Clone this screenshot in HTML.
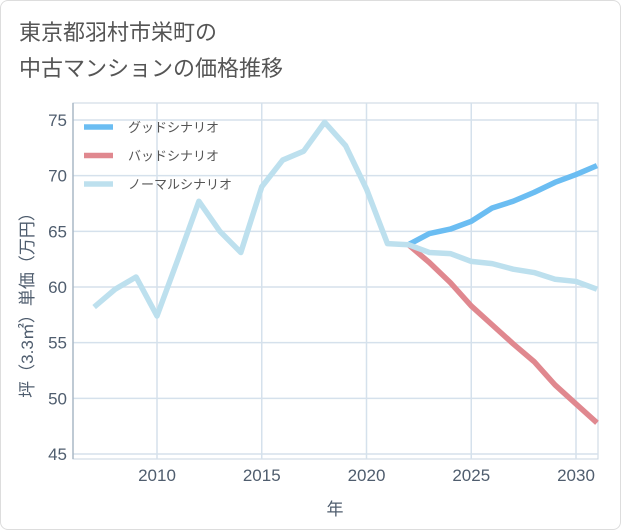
<!DOCTYPE html>
<html><head><meta charset="utf-8"><style>
body{margin:0;background:#fff;}
#wrap{position:relative;width:619px;height:528px;border:1px solid #ddd;border-radius:8px;overflow:hidden;font-family:"Liberation Sans","Noto Sans CJK JP",sans-serif;}
#title{position:absolute;left:18px;top:14px;font-size:22px;line-height:36px;color:#555;}
svg{position:absolute;left:0;top:0;}
</style></head><body>
<div id="wrap">
<div id="title">東京都羽村市栄町の<br>中古マンションの価格推移</div>
<svg id="chart" width="621" height="530"></svg>
</div>
<script>
const years=[2007,2008,2009,2010,2011,2012,2013,2014,2015,2016,2017,2018,2019,2020,2021,2022,2023,2024,2025,2026,2027,2028,2029,2030,2031];
const normalVals=[58.2,59.8,60.9,57.4,62.5,67.7,65.0,63.1,69.0,71.4,72.2,74.8,72.7,68.8,63.9,63.8,63.1,63.0,62.3,62.1,61.6,61.3,60.7,60.5,59.8];
const futureYears=[2022,2023,2024,2025,2026,2027,2028,2029,2030,2031];
const goodVals=[63.8,64.8,65.2,65.9,67.1,67.7,68.5,69.4,70.1,70.9];
const badVals=[63.8,62.2,60.4,58.3,56.6,54.9,53.3,51.2,49.5,47.8];
const yTicks=[45,50,55,60,65,70,75];
const xTicks=[2010,2015,2020,2025,2030];
const L=72,R=597,T=102,B=458;
const x=v=>156+(v-2010)*20.95;
const y=v=>453-(v-45)*11.133;
const svg=document.getElementById('chart');
const NS='http://www.w3.org/2000/svg';
function mk(t,a){const e=document.createElementNS(NS,t);for(const k in a)e.setAttribute(k,a[k]);svg.appendChild(e);return e;}
const bg=mk('rect',{x:L,y:T,width:R-L,height:B-T,fill:'#fff',stroke:'#c8d4e0'});


yTicks.forEach(v=>{
 const g=mk('line',{x1:L,x2:R,y1:y(v),y2:y(v),stroke:'#d5e1ec','stroke-width':1.5});
 
 
 const t=mk('text',{x:L-6,y:y(v)+6,'text-anchor':'end','font-size':17,fill:'#4f5d6e'});
 t.textContent=v;
 
 
});
xTicks.forEach(v=>{
 const g=mk('line',{x1:x(v),x2:x(v),y1:T,y2:B,stroke:'#d5e1ec','stroke-width':1.5});
 
 
 const t=mk('text',{x:x(v),y:B+22,'text-anchor':'middle','font-size':17,fill:'#4f5d6e'});
 t.textContent=v;
 
 
});
const ax=mk('line',{x1:L,x2:L,y1:T,y2:B,stroke:'#aab8c6','stroke-width':1.5});


const xt=mk('text',{x:334,y:514,'text-anchor':'middle','font-size':17,fill:'#4f5d6e'});
xt.textContent='年';


const yt=mk('text',{x:0,y:0,'text-anchor':'middle','font-size':17,fill:'#4f5d6e',transform:'translate(32,300) rotate(-90)'});
yt.textContent='坪（3.3㎡）単価（万円）';


function line(xs,vs,c,name){
 const p=mk('polyline',{points:xs.map((v,i)=>x(v)+','+y(vs[i])).join(' '),fill:'none',stroke:c,'stroke-width':5.5,'stroke-linejoin':'round'});
 
 
}
line(futureYears,badVals,'#e0888f','bad-scenario-line');
line(futureYears,goodVals,'#6bbdf2','good-scenario-line');
line(years,normalVals,'#bde0ee','normal-scenario-line');
[['グッドシナリオ','#6bbdf2'],['バッドシナリオ','#e0888f'],['ノーマルシナリオ','#bde0ee']].forEach((d,i)=>{
 const yy=126+i*28.5;
 const s=mk('line',{x1:83,x2:112,y1:yy,y2:yy,stroke:d[1],'stroke-width':5.5});
 
 
 const t=mk('text',{x:127,y:yy+5,'font-size':13,fill:'#555'});
 t.textContent=d[0];
 
 
});
</script>
</body></html>
